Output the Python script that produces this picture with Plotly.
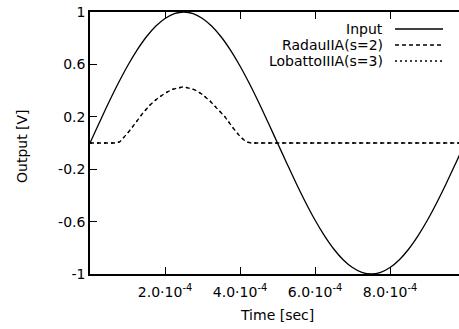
import plotly.graph_objects as go

# Time axis (seconds) and values
t_input = [i * 0.25e-4 for i in range(41)]
v_input = [0.0, 0.156, 0.309, 0.454, 0.588, 0.707, 0.809, 0.891, 0.951, 0.988,
           1.0, 0.988, 0.951, 0.891, 0.809, 0.707, 0.588, 0.454, 0.309, 0.156,
           0.0, -0.156, -0.309, -0.454, -0.588, -0.707, -0.809, -0.891, -0.951, -0.988,
           -1.0, -0.988, -0.951, -0.891, -0.809, -0.707, -0.588, -0.454, -0.309, -0.156,
           0.0]

t_out = [0.0, 0.5e-4, 0.7e-4, 0.8e-4, 0.9e-4, 1.0e-4, 1.1e-4, 1.2e-4, 1.4e-4, 1.6e-4,
         1.8e-4, 2.0e-4, 2.2e-4, 2.5e-4, 2.8e-4, 3.0e-4, 3.2e-4, 3.4e-4, 3.6e-4, 3.8e-4,
         3.9e-4, 4.0e-4, 4.1e-4, 4.2e-4, 4.3e-4, 6.0e-4, 8.0e-4, 10.0e-4]
v_radau = [0.0, 0.0, 0.0, 0.01, 0.04, 0.075, 0.11, 0.15, 0.225, 0.29,
           0.34, 0.38, 0.41, 0.43, 0.405, 0.37, 0.32, 0.26, 0.2, 0.12,
           0.085, 0.05, 0.025, 0.007, 0.0, 0.0, 0.0, 0.0]
v_lobatto = [0.0, 0.0, 0.0, 0.01, 0.04, 0.075, 0.11, 0.15, 0.225, 0.29,
             0.34, 0.38, 0.41, 0.43, 0.405, 0.37, 0.32, 0.26, 0.2, 0.12,
             0.085, 0.05, 0.025, 0.007, 0.0, 0.0, 0.0, 0.0]

x_tickvals = [2e-4, 4e-4, 6e-4, 8e-4]
x_ticktext = ["2.0·10<sup>-4</sup>", "4.0·10<sup>-4</sup>",
              "6.0·10<sup>-4</sup>", "8.0·10<sup>-4</sup>"]
y_tickvals = [1, 0.6, 0.2, -0.2, -0.6, -1]
y_ticktext = ["1", "0.6", "0.2", "-0.2", "-0.6", "-1"]
legend_names = ["Input", "RadauIIA(s=2)", "LobattoIIIA(s=3)"]

FONT = "DejaVu Sans"
W, H = 459, 329
PL, PR, PT, PB = 90, 459, 12, 274   # plot area in page pixels
L, R, T, B = PL, W - PR, PT, H - PB

pw = PR - PL
ph = PB - PT

def px(xp):
    return (xp - PL) / pw

def py(yp):
    return (PB - yp) / ph

fig = go.Figure()
fig.add_trace(go.Scatter(x=t_input, y=v_input, mode="lines", name=legend_names[0],
                         line=dict(color="black", width=1.3, shape="spline")))
fig.add_trace(go.Scatter(x=t_out, y=v_lobatto, mode="lines", name=legend_names[2],
                         line=dict(color="black", width=1.3, dash="2px,5px")))
fig.add_trace(go.Scatter(x=t_out, y=v_radau, mode="lines", name=legend_names[1],
                         line=dict(color="black", width=1.3, dash="4px,3px")))

legend_y = [29, 45, 61]
legend_dash = ["solid", "4px,3px", "2px,3px"]
for name, yy, dash in zip(legend_names, legend_y, legend_dash):
    fig.add_annotation(text=name, xref="paper", yref="paper", x=px(385), y=py(yy),
                       xanchor="right", yanchor="middle", showarrow=False,
                       font=dict(family=FONT, size=14, color="black"))
    fig.add_shape(type="line", xref="paper", yref="paper", x0=px(395), x1=px(443),
                  y0=py(yy), y1=py(yy), line=dict(color="black", width=1.3, dash=dash))

fig.add_annotation(text="Time [sec]", xref="paper", yref="paper", x=px(277), y=py(315),
                   xanchor="center", yanchor="middle", showarrow=False,
                   font=dict(family=FONT, size=14, color="black"))
fig.add_annotation(text="Output [V]", xref="paper", yref="paper", x=px(22), y=py(146),
                   xanchor="center", yanchor="middle", showarrow=False, textangle=-90,
                   font=dict(family=FONT, size=14, color="black"))

fig.update_layout(
    width=W, height=H,
    margin=dict(l=L, r=R, t=T, b=B),
    paper_bgcolor="white", plot_bgcolor="white",
    showlegend=False,
    font=dict(family=FONT, size=14, color="black"),
    xaxis=dict(range=[0, 9.84e-4], tickvals=x_tickvals, ticktext=x_ticktext,
               ticks="inside", ticklen=7, tickwidth=1.2, tickcolor="black",
               showline=True, linecolor="black", linewidth=1.5, mirror="ticks",
               showgrid=False, zeroline=False, ticklabeloverflow="allow",
               ticklabelstandoff=4),
    yaxis=dict(range=[-1, 1], tickvals=y_tickvals, ticktext=y_ticktext,
               ticks="inside", ticklen=7, tickwidth=1.2, tickcolor="black",
               showline=True, linecolor="black", linewidth=1.5,
               showgrid=False, zeroline=False, ticklabeloverflow="allow"),
)

fig.write_html("out.html", config={"displayModeBar": False},
               post_script="document.body.style.margin='0';"
                           "document.body.style.overflow='hidden';")
